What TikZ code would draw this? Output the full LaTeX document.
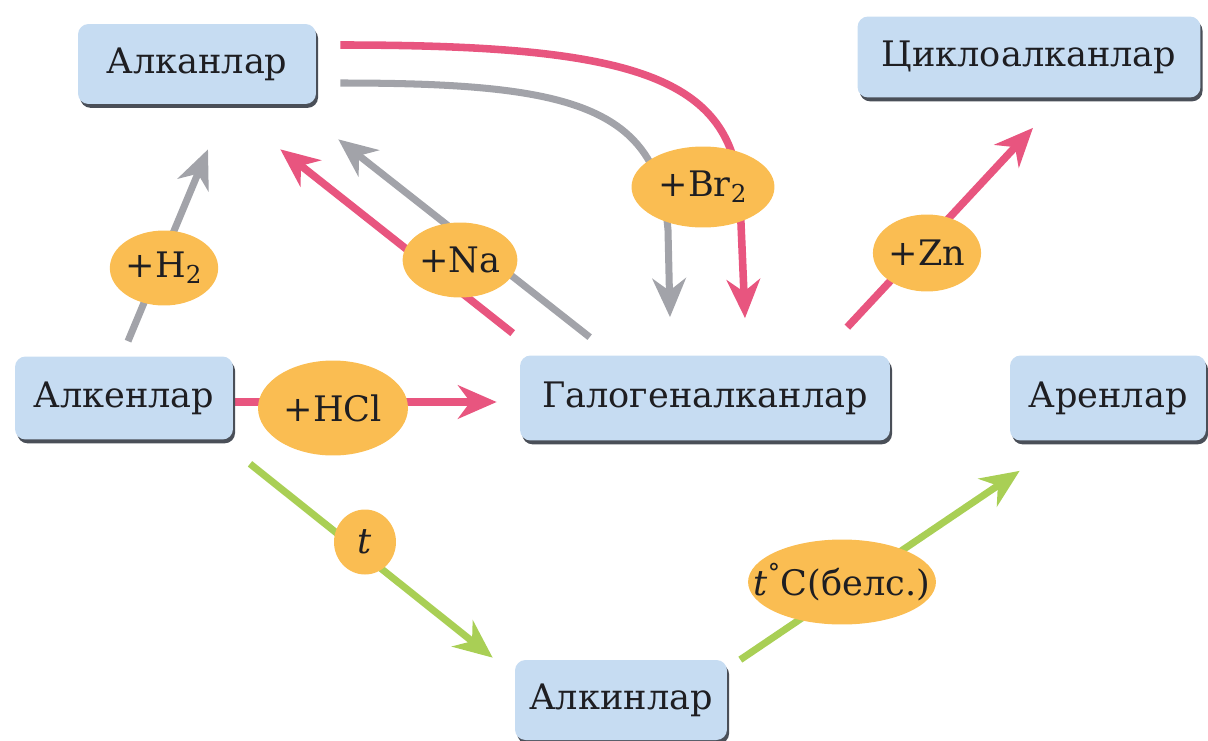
\documentclass[tikz,border=0pt]{standalone}
\usepackage{fontspec}
\setmainfont{DejaVu Serif}
\usetikzlibrary{arrows.meta,positioning,calc,shapes.geometric,shadows,backgrounds}
\definecolor{boxblue}{HTML}{C6DCF2}
\definecolor{boxshade}{HTML}{4A4F58}
\definecolor{reagorange}{HTML}{FABD52}
\definecolor{rpink}{HTML}{E8557F}
\definecolor{rgray}{HTML}{A2A3A9}
\definecolor{rgreen}{HTML}{A9CF55}
\definecolor{rink}{HTML}{1E1E22}

\begin{document}
\begin{tikzpicture}[x=0.02cm, y=-0.02cm, font=\fontsize{20}{23}\selectfont, text=rink,
  >={Stealth[length=22pt,width=19pt,inset=7pt]},
  klass/.style={fill=boxblue, rounded corners=6pt, minimum height=1.6cm, inner sep=0pt,
    drop shadow={shadow xshift=1.2pt, shadow yshift=-2.2pt, fill=boxshade, opacity=1}},
  reag/.style={ellipse, fill=reagorange, inner sep=0pt},
  pinkline/.style={->, rpink, line width=4.3pt},
  grayline/.style={->, rgray, line width=4pt},
  greenline/.style={->, rgreen, line width=4pt}]
  \useasboundingbox (0,0) rectangle (1208,741);

  % classes of compounds
  \node[klass, minimum width=4.76cm] (alkan) at (197,64) {Алканлар};
  \node[klass, minimum width=6.86cm, minimum height=1.62cm] (cyclo) at (1029,57) {Циклоалканлар};
  \node[klass, minimum width=4.36cm, minimum height=1.66cm] (alken) at (124,398) {Алкенлар};
  \node[klass, minimum width=7.4cm, minimum height=1.7cm] (halo) at (705,398) {Галогеналканлар};
  \node[klass, minimum width=3.92cm, minimum height=1.7cm] (aren) at (1108,398) {Аренлар};
  \node[klass, minimum width=4.24cm] (alkin) at (621,700) {Алкинлар};

  % reagents
  \node[reag, minimum width=2.16cm, minimum height=1.5cm] (h2) at (164,268) {+H\textsubscript{2}};
  \node[reag, minimum width=2.16cm, minimum height=1.5cm] (na) at (460,260) {+Na};
  \node[reag, minimum width=2.86cm, minimum height=1.62cm] (br) at (703,187) {+Br\textsubscript{2}};
  \node[reag, minimum width=2.16cm, minimum height=1.54cm] (zn) at (927,253) {+Zn};
  \node[reag, minimum width=3cm, minimum height=1.9cm] (hcl) at (333,408) {+HCl};
  \node[reag, minimum width=1.24cm, minimum height=1.3cm] (tt) at (365,542) {\textit{t}};
  \node[reag, inner xsep=-12.5pt, minimum height=1.7cm] (tc) at (842,582) {\textit{t}\textsuperscript{°}C(белс.)};

  \begin{scope}[on background layer]
    \draw[grayline] ($(alken.north)+(4,-15)$) -- ($(alkan.south)+(11,45)$);
    \draw[pinkline] ($(halo.north west)+(-7,-22)$) -- ($(alkan.south east)+(-36,45)$);
    \draw[grayline] ($(halo.north west)+(70,-18)$) -- ($(alkan.south east)+(22,35)$);
    \draw[pinkline] ($(alkan.east)+(24,-19)$) .. controls +(290,0) and +(-5,-125) .. ($(br.center)+(37,13)$) -- ($(halo.north)+(40,-37)$);
    \draw[grayline] ($(alkan.east)+(24,19)$) .. controls +(230,0) and +(-10,-125) .. ($(br.center)+(-35,43)$) -- ($(halo.north)+(-35,-38)$);
    \draw[pinkline] ($(halo.north east)+(-43,-28)$) -- ($(cyclo.south)+(4,30)$);
    \draw[pinkline] ($(alken.east)+(2,4)$) -- ($(halo.west)+(-23,4)$);
    \draw[greenline] ($(alken.south)+(126,24)$) -- ($(alkin.north west)+(-22,-2)$);
    \draw[greenline] ($(alkin.north east)+(13,0)$) -- ($(aren.south west)+(10,30)$);
  \end{scope}
\end{tikzpicture}
\end{document}
